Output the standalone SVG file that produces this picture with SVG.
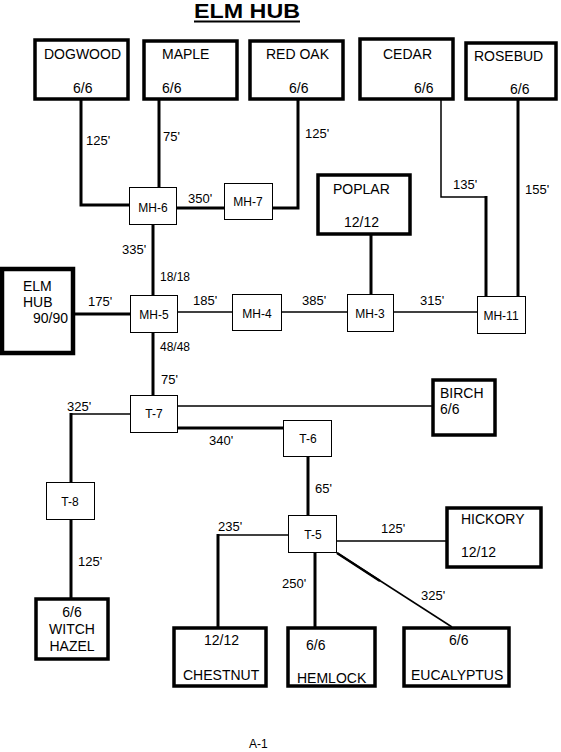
<svg xmlns="http://www.w3.org/2000/svg" width="561" height="752" viewBox="0 0 561 752">
<style>
.big{fill:#fff;stroke:#000;stroke-width:3.5}
.hub{fill:#fff;stroke:#000;stroke-width:4.5}
.small{fill:#fff;stroke:#000;stroke-width:1}
.thick{stroke:#000;stroke-width:3;fill:none}
.thin{stroke:#000;stroke-width:1.5;fill:none}
text{font-family:"Liberation Sans",Arial,sans-serif;fill:#000}
.n{font-size:14px}
.l{font-size:13px}
.m{font-size:12px}
.c{text-anchor:middle}
</style>
<rect width="561" height="752" fill="#fff"/>
<g id="title">
<text x="194" y="18" font-size="20" font-weight="bold" textLength="106" lengthAdjust="spacingAndGlyphs">ELM HUB</text>
<line x1="194" y1="21.5" x2="300" y2="21.5" stroke="#000" stroke-width="2"/>
</g>
<g id="connectors">
<polyline class="thick" points="81,99 81,205 130,205"/>
<line class="thick" x1="159" y1="99" x2="159" y2="188"/>
<line class="thick" x1="177" y1="208" x2="224" y2="208"/>
<polyline class="thick" points="298,99 298,208 273,208"/>
<polyline class="thin" points="441,99 441,197 486,197"/>
<line class="thick" x1="486" y1="196" x2="486" y2="297"/>
<line class="thick" x1="518" y1="99" x2="518" y2="297"/>
<line class="thick" x1="371" y1="235" x2="371" y2="294"/>
<line class="thin" x1="394" y1="312" x2="477" y2="312"/>
<line class="thin" x1="282" y1="312" x2="347" y2="312"/>
<line class="thin" x1="178" y1="312" x2="232" y2="312"/>
<line class="thick" x1="73" y1="314" x2="130" y2="314"/>
<line class="thick" x1="153" y1="225" x2="153" y2="295"/>
<line class="thick" x1="153" y1="333" x2="153" y2="395"/>
<line class="thin" x1="178" y1="406" x2="432" y2="406"/>
<line class="thick" x1="178" y1="428" x2="283" y2="428"/>
<polyline class="thin" points="130,414 71,414"/>
<line class="thick" x1="71" y1="413" x2="71" y2="482"/>
<line class="thick" x1="71" y1="520" x2="71" y2="598"/>
<line class="thick" x1="308" y1="457" x2="308" y2="515"/>
<line class="thin" x1="337" y1="541" x2="447" y2="541"/>
<line class="thin" x1="288" y1="535" x2="218" y2="535"/>
<line class="thick" x1="218" y1="534" x2="218" y2="627"/>
<line class="thick" x1="315" y1="553" x2="315" y2="627"/>
<line class="thin" x1="337" y1="553" x2="452" y2="627"/>
<line stroke="#000" stroke-width="2.5" x1="337" y1="553" x2="380" y2="581"/>
</g>
<g id="labels">
<text class="l" x="86" y="145">125'</text>
<text class="l" x="163" y="141">75'</text>
<text class="l" x="188" y="203">350'</text>
<text class="l" x="305" y="138">125'</text>
<text class="l" x="453" y="189">135'</text>
<text class="l" x="525" y="194">155'</text>
<text class="l" x="122" y="254">335'</text>
<text class="m" x="160" y="281">18/18</text>
<text class="l" x="88" y="306">175'</text>
<text class="l" x="193" y="305">185'</text>
<text class="l" x="302" y="305">385'</text>
<text class="l" x="420" y="305">315'</text>
<text class="m" x="160" y="351">48/48</text>
<text class="l" x="161" y="384">75'</text>
<text class="l" x="67" y="411">325'</text>
<text class="l" x="209" y="445">340'</text>
<text class="l" x="315" y="493">65'</text>
<text class="l" x="78" y="566">125'</text>
<text class="l" x="218" y="531">235'</text>
<text class="l" x="381" y="533">125'</text>
<text class="l" x="282" y="588">250'</text>
<text class="l" x="421" y="600">325'</text>
</g>
<g id="dogwood"><rect class="big" x="35" y="40" width="93" height="59"/><text class="n" x="44" y="59">DOGWOOD</text><text class="n" x="73" y="93">6/6</text></g>
<g id="maple"><rect class="big" x="144" y="41" width="93" height="58"/><text class="n" x="162" y="59">MAPLE</text><text class="n" x="162" y="93">6/6</text></g>
<g id="redoak"><rect class="big" x="250" y="41" width="93" height="58"/><text class="n" x="266" y="59">RED OAK</text><text class="n" x="289" y="93">6/6</text></g>
<g id="cedar"><rect class="big" x="360" y="39" width="93" height="60"/><text class="n" x="383" y="59">CEDAR</text><text class="n" x="414" y="93">6/6</text></g>
<g id="rosebud"><rect class="big" x="466" y="43" width="90" height="56"/><text class="n" x="474" y="61">ROSEBUD</text><text class="n" x="510" y="94">6/6</text></g>
<g id="mh6"><rect class="small" x="129.5" y="187.5" width="47" height="37"/><text class="m c" x="153" y="212">MH-6</text></g>
<g id="mh7"><rect class="small" x="224.5" y="183.5" width="48" height="36"/><text class="m c" x="248" y="206">MH-7</text></g>
<g id="poplar"><rect class="big" x="318" y="175" width="92" height="59"/><text class="n" x="333" y="194">POPLAR</text><text class="n" x="344" y="227">12/12</text></g>
<g id="mh11"><rect class="small" x="477.5" y="296.5" width="48" height="37"/><text class="m c" x="501" y="320">MH-11</text></g>
<g id="mh3"><rect class="small" x="347.5" y="294.5" width="46" height="37"/><text class="m c" x="370" y="318">MH-3</text></g>
<g id="mh4"><rect class="small" x="232.5" y="294.5" width="49" height="36"/><text class="m c" x="257" y="318">MH-4</text></g>
<g id="mh5"><rect class="small" x="130.5" y="295.5" width="47" height="37"/><text class="m c" x="154" y="319">MH-5</text></g>
<g id="elmhub"><rect class="hub" x="2" y="269" width="71" height="84"/><text class="n" x="23" y="291">ELM</text><text class="n" x="23" y="307">HUB</text><text class="n" x="33" y="323">90/90</text></g>
<g id="t7"><rect class="small" x="130.5" y="395.5" width="47" height="37"/><text class="m c" x="154" y="418">T-7</text></g>
<g id="birch"><rect class="big" x="433" y="380" width="62" height="55"/><text class="n" x="440" y="398">BIRCH</text><text class="n" x="440" y="414">6/6</text></g>
<g id="t6"><rect class="small" x="283.5" y="420.5" width="48" height="36"/><text class="m c" x="308" y="443">T-6</text></g>
<g id="t8"><rect class="small" x="46.5" y="482.5" width="48" height="37"/><text class="m c" x="70" y="506">T-8</text></g>
<g id="witchhazel"><rect class="big" x="36" y="599" width="72" height="60"/><text class="n c" x="72" y="617">6/6</text><text class="n c" x="72" y="634">WITCH</text><text class="n c" x="72" y="651">HAZEL</text></g>
<g id="t5"><rect class="small" x="288.5" y="515.5" width="48" height="37"/><text class="m c" x="313" y="539">T-5</text></g>
<g id="hickory"><rect class="big" x="447" y="508" width="94" height="59"/><text class="n" x="461" y="524">HICKORY</text><text class="n" x="461" y="557">12/12</text></g>
<g id="chestnut"><rect class="big" x="174" y="628" width="92" height="58"/><text class="n" x="204" y="645">12/12</text><text class="n" x="183" y="680">CHESTNUT</text></g>
<g id="hemlock"><rect class="big" x="288" y="628" width="87" height="58"/><text class="n" x="306" y="650">6/6</text><text class="n" x="297" y="683">HEMLOCK</text></g>
<g id="eucalyptus"><rect class="big" x="404" y="628" width="105" height="58"/><text class="n" x="449" y="645">6/6</text><text class="n" x="411" y="680">EUCALYPTUS</text></g>
<text class="m" x="249" y="748">A-1</text>
</svg>
